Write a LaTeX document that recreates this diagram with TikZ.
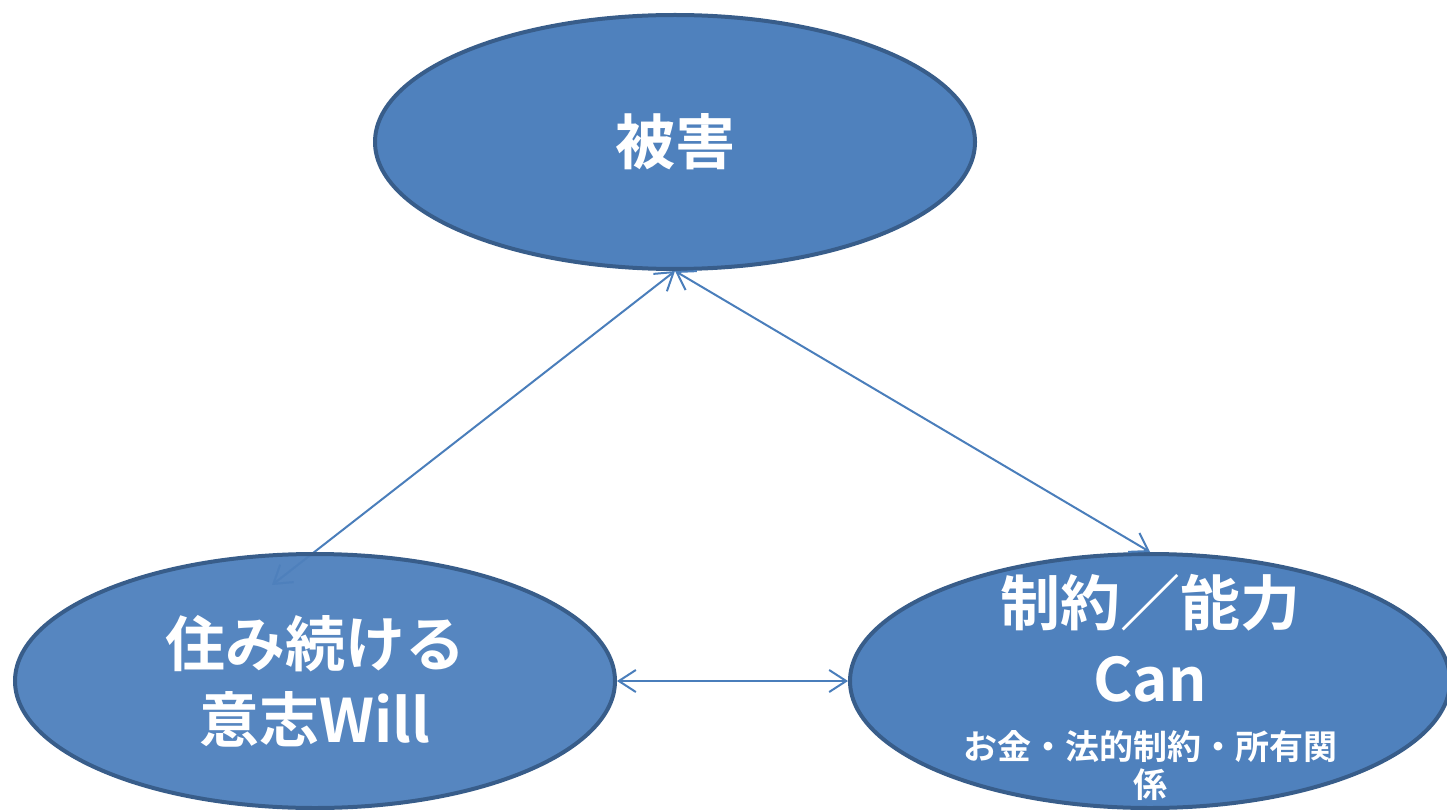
\documentclass[tikz,border=0pt]{standalone}
\usepackage{fontspec}
\newfontfamily\jpfont{Noto Sans CJK JP}[BoldFont={Noto Sans CJK JP Bold}]
\usetikzlibrary{arrows.meta,shapes.geometric}
\definecolor{blobfill}{HTML}{4F81BD}
\definecolor{blobedge}{HTML}{385D8A}
\definecolor{linkcol}{HTML}{4A7EBB}
\tikzset{
  blob/.style={ellipse,draw=blobedge,fill=blobfill,line width=4pt,
    minimum width=600pt,minimum height=254pt,inner sep=0pt},
  blobtext/.style={text=white,align=center,inner sep=0pt,
    font=\jpfont\bfseries\fontsize{60}{76}\selectfont},
  link/.style={draw=linkcol,line width=2pt,
    {Straight Barb[length=17pt,width=22pt]}-{Straight Barb[length=17pt,width=22pt]}}
}

\begin{document}
\begin{tikzpicture}[x=1pt,y=-1pt]
    \useasboundingbox (0,0) rectangle (1447,810);
    \node[blob] (damage) at (675,142) {};
    \node[blobtext] (damageText) at (damage.center) {被害};
    \node[blob] (can) at (1150,681) {};
    \node[blobtext,anchor=north] (canText) at (1150,574) {制約／能力\\Can\\[-18pt]
      \fontsize{34}{38}\selectfont お金・法的制約・所有関\\[-38pt]\fontsize{34}{38}\selectfont 係};

    \coordinate (willTip) at (272,585);
    \draw[link] (damage.south) -- (willTip);
    \draw[link] (damage.south) -- (can.north);

    \node[blob,fill opacity=0.96] (will) at (315,681) {};
    \node[blobtext] (willText) at (will.center) {住み続ける\\意志Will};
    \draw[link] (will.east) -- (can.west);
\end{tikzpicture}
\end{document}
